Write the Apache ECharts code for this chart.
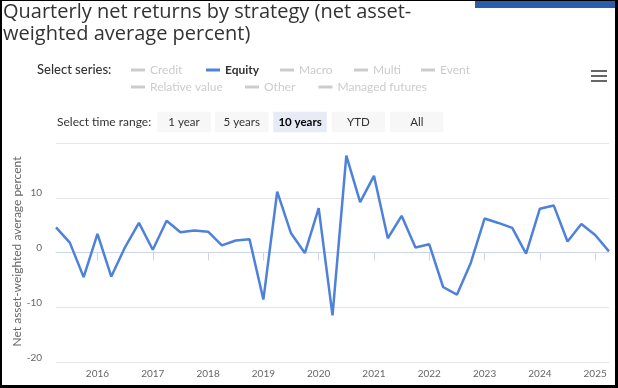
<!DOCTYPE html>
<html>
<head>
<meta charset="utf-8">
<script src="https://cdn.jsdelivr.net/npm/echarts@6/dist/echarts.min.js"></script>
<style>
  html, body { margin: 0; padding: 0; background: #000; }
  #frame { position: absolute; left: 0; top: 0; width: 618px; height: 388px; box-sizing: border-box;
           border-left: 2px solid #000; border-top: 1px solid #000; border-right: 3px solid #000; border-bottom: 3px solid #000;
           background: #fff; }
  #chart { position: absolute; left: 0; top: 0; width: 618px; height: 388px; }
</style>
</head>
<body>
<div id="frame"></div>
<div id="chart"></div>
<script>
// ---- data ----
const quarters = [
  '2015Q1','2015Q2','2015Q3','2015Q4',
  '2016Q1','2016Q2','2016Q3','2016Q4',
  '2017Q1','2017Q2','2017Q3','2017Q4',
  '2018Q1','2018Q2','2018Q3','2018Q4',
  '2019Q1','2019Q2','2019Q3','2019Q4',
  '2020Q1','2020Q2','2020Q3','2020Q4',
  '2021Q1','2021Q2','2021Q3','2021Q4',
  '2022Q1','2022Q2','2022Q3','2022Q4',
  '2023Q1','2023Q2','2023Q3','2023Q4',
  '2024Q1','2024Q2','2024Q3','2024Q4',
  '2025Q1'
];
const equity = [
  4.6, 1.8, -4.5, 3.4,
  -4.4, 1.0, 5.4, 0.5,
  5.8, 3.7, 4.0, 3.8,
  1.3, 2.2, 2.4, -8.6,
  11.1, 3.5, -0.1, 8.1,
  -11.5, 17.7, 9.2, 14.0,
  2.6, 6.7, 0.9, 1.5,
  -6.3, -7.7, -1.9, 6.2,
  5.4, 4.5, -0.2, 8.0,
  8.6, 2.0, 5.2, 3.2,
  0.2
];
const seriesNames = ['Credit','Equity','Macro','Multi','Event','Relative value','Other','Managed futures'];
const activeSeries = 'Equity';
const yearTicks = [2016, 2017, 2018, 2019, 2020, 2021, 2022, 2023, 2024, 2025];
const yTicks = [-20, -10, 0, 10, 20];
const rangeButtons = ['1 year', '5 years', '10 years', 'YTD', 'All'];
const activeRange = '10 years';
const titleText = 'Quarterly net returns by strategy (net asset-\nweighted average percent)';
const yAxisTitle = 'Net asset-weighted average percent';

// quarter-end as fractional year
function qx(q) { return parseInt(q.slice(0, 4), 10) + parseInt(q.slice(5), 10) / 4; }

const FONT = 'Lato, "Noto Sans", sans-serif';
const TFONT = '"Open Sans", "Noto Sans", sans-serif';
const chart = echarts.init(document.getElementById('chart'), null, { renderer: 'canvas' });

// legend layout (icon left x, row center y)
const legendPos = [
  [131, 70], [206, 70], [280, 70], [354, 70], [421, 70],
  [131, 87], [245, 87], [318.5, 87]
];
const legends = seriesNames.map((n, i) => ({
  data: [n],
  left: legendPos[i][0],
  top: legendPos[i][1] - 7,
  padding: 0,
  icon: 'rect',
  itemWidth: 14,
  itemHeight: 3,
  inactiveColor: '#cccccc',
  selected: { [n]: n === activeSeries },
  textStyle: { fontFamily: FONT, fontSize: 12, lineHeight: 14, color: '#333',
               fontWeight: n === activeSeries ? 'bold' : 'normal' }
}));

const graphics = [];
graphics.push({ type: 'rect', shape: { x: 475, y: 1, width: 140, height: 7 }, style: { fill: '#2b5dab' } });
graphics.push({ type: 'text', x: 37, y: 70, style: { text: 'Select series:', font: '500 13px ' + FONT, fill: '#333', verticalAlign: 'middle' } });
graphics.push({ type: 'text', x: 57, y: 122, style: { text: 'Select time range:', font: '12px ' + FONT, fill: '#333', verticalAlign: 'middle' } });
[70, 75, 80].forEach(y => graphics.push({ type: 'rect', shape: { x: 591, y: y, width: 16, height: 2 }, style: { fill: '#666' } }));
const btnX = [157.3, 215, 273.3, 331.7, 390];
rangeButtons.forEach((b, i) => {
  const act = b === activeRange;
  graphics.push({ type: 'rect', shape: { x: btnX[i], y: 111.7, width: 53.5, height: 20.6 },
                  style: { fill: act ? '#e6ebf5' : '#f7f7f7' } });
  graphics.push({ type: 'text', x: btnX[i] + 26.75, y: 122,
                  style: { text: b, font: (act ? 'bold ' : '') + '11.5px ' + FONT, fill: act ? '#000' : '#333',
                           align: 'center', verticalAlign: 'middle' } });
});
// y-axis title
graphics.push({ type: 'text', x: 17.5, y: 251.5, rotation: Math.PI / 2,
                style: { text: yAxisTitle, font: '12px ' + FONT, fill: '#666', align: 'center', verticalAlign: 'middle' } });

const series = seriesNames.map(n => ({
  name: n,
  type: 'line',
  showSymbol: false,
  symbol: 'none',
  lineStyle: { width: 2.5, color: '#4e81d9' },
  itemStyle: { color: n === activeSeries ? '#4e81d9' : '#cccccc' },
  data: n === activeSeries ? quarters.map((q, i) => [qx(q), equity[i]]) : []
}));

chart.setOption({
  animation: false,
  backgroundColor: 'transparent',
  title: {
    text: titleText, left: 3, top: 1, padding: 0,
    textStyle: { fontFamily: TFONT, fontSize: 20, lineHeight: 22, fontWeight: 'normal', color: '#333' }
  },
  legend: legends,
  graphic: graphics,
  grid: { left: 56, right: 9, top: 143, bottom: 26, containLabel: false },
  xAxis: {
    type: 'value',
    min: qx(quarters[0]),
    max: qx(quarters[quarters.length - 1]),
    axisLine: { show: true, lineStyle: { color: '#ccd6eb', width: 1 } },
    axisTick: { show: true, length: 8, lineStyle: { color: '#ccd6eb' }, customValues: yearTicks },
    axisLabel: { color: '#666', fontSize: 10, fontFamily: FONT, margin: 7, customValues: yearTicks,
                 formatter: v => String(Math.round(v)) },
    splitLine: { show: false }
  },
  yAxis: {
    type: 'value',
    min: yTicks[0], max: yTicks[yTicks.length - 1], interval: 10,
    axisLine: { show: false }, axisTick: { show: false },
    axisLabel: { color: '#666', fontSize: 10, fontFamily: FONT, margin: 14, verticalAlign: 'bottom', lineHeight: 9,
                 formatter: v => v === yTicks[yTicks.length - 1] ? '' : String(v) },
    splitLine: { lineStyle: { color: '#e6e6e6', width: 1 } }
  },
  series: series
});
</script>
</body>
</html>
